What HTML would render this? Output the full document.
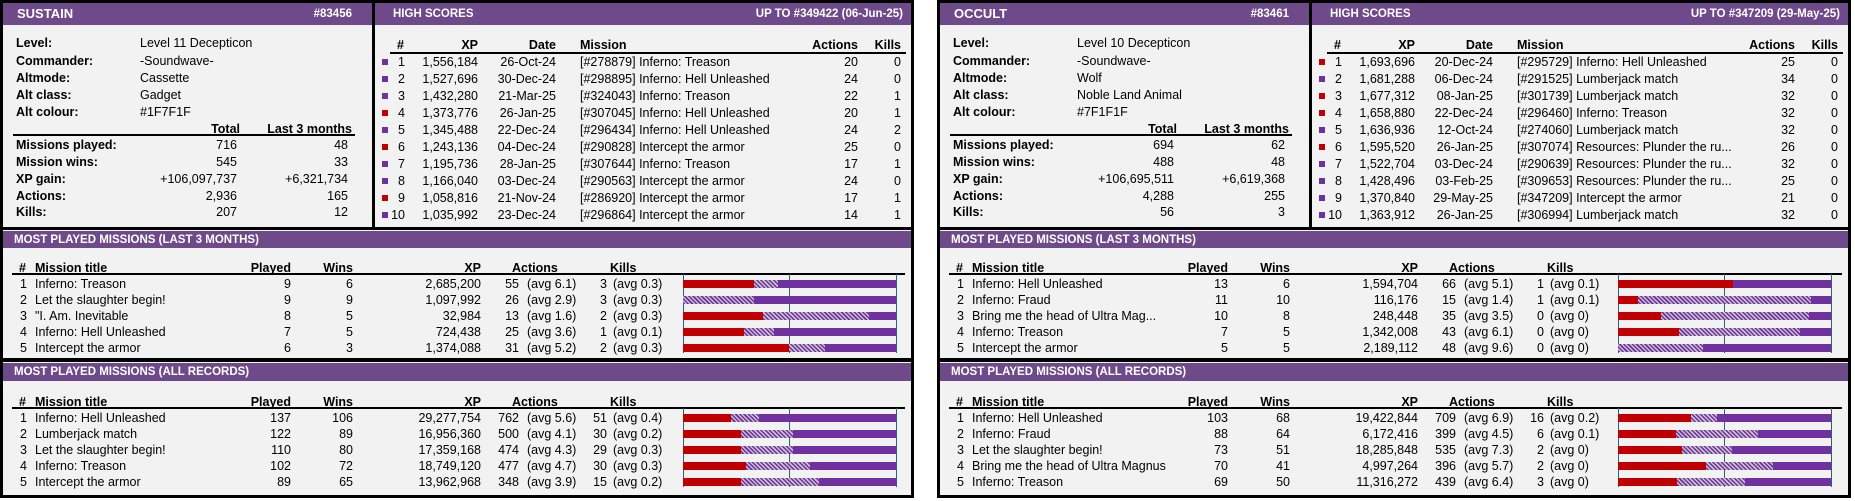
<!DOCTYPE html>
<html><head><meta charset="utf-8"><style>
body{margin:0;width:1855px;height:501px;background:#fff;overflow:hidden;font-family:"Liberation Sans",Arial,sans-serif;color:#000}
.c{position:absolute;top:0;width:914px;height:498px;background:#000}
.p{position:absolute;background:#f2f2f2}
.h{position:absolute;background:#6e4a8a}
.t{position:absolute;white-space:nowrap;line-height:16px;height:16px;font-size:12.5px}
.b{font-weight:bold}
.w{color:#fff;font-weight:bold;font-size:13px}
.hs{color:#fff;font-weight:bold;font-size:11.5px}
.ln{position:absolute;height:1.5px;background:#000}
.sq{position:absolute;width:6px;height:6px}
.tk{position:absolute;width:1px;background:#2a6080}
.bar{position:absolute;height:8px;background:#7030a0}
.bar i{position:absolute;top:0;height:8px;left:0}
.rd{background:#c00000}
.hx{background:repeating-linear-gradient(45deg,#7030a0 0 1.5px,#c8c0cc 1.5px 3px)}
</style></head><body>

<!-- LEFT CARD -->
<div class="c" style="left:0">
<div class="p" style="left:3px;top:3px;width:369px;height:224px"></div>
<div class="p" style="left:375px;top:3px;width:536px;height:224px"></div>
<div class="p" style="left:3px;top:230px;width:908px;height:128px"></div>
<div class="p" style="left:3px;top:362px;width:908px;height:133px"></div>
<div class="h" style="left:3px;top:3px;width:369px;height:22px"></div>
<div class="h" style="left:375px;top:3px;width:536px;height:22px"></div>
<div class="h" style="left:3px;top:231px;width:908px;height:17px"></div>
<div class="h" style="left:3px;top:363px;width:908px;height:18px"></div>
<div class="t w" style="left:17px;top:6px">SUSTAIN</div>
<div class="t hs" style="right:562px;top:6px">#83456</div>
<div class="t hs" style="left:393px;top:6px">HIGH SCORES</div>
<div class="t hs" style="right:11px;top:6px">UP TO #349422 (06-Jun-25)</div>

<div class="t b" style="left:16px;top:35px">Level:</div><div class="t" style="left:140px;top:35px">Level 11 Decepticon</div>
<div class="t b" style="left:16px;top:53px">Commander:</div><div class="t" style="left:140px;top:53px">-Soundwave-</div>
<div class="t b" style="left:16px;top:70px">Altmode:</div><div class="t" style="left:140px;top:70px">Cassette</div>
<div class="t b" style="left:16px;top:87px">Alt class:</div><div class="t" style="left:140px;top:87px">Gadget</div>
<div class="t b" style="left:16px;top:104px">Alt colour:</div><div class="t" style="left:140px;top:104px">#1F7F1F</div>
<div class="t b" style="right:674px;top:121px">Total</div><div class="t b" style="right:562px;top:121px">Last 3 months</div>
<div class="ln" style="left:13px;width:342px;top:134px"></div>
<div class="t b" style="left:16px;top:137px">Missions played:</div><div class="t" style="right:677px;top:137px">716</div><div class="t" style="right:566px;top:137px">48</div>
<div class="t b" style="left:16px;top:154px">Mission wins:</div><div class="t" style="right:677px;top:154px">545</div><div class="t" style="right:566px;top:154px">33</div>
<div class="t b" style="left:16px;top:171px">XP gain:</div><div class="t" style="right:677px;top:171px">+106,097,737</div><div class="t" style="right:566px;top:171px">+6,321,734</div>
<div class="t b" style="left:16px;top:188px">Actions:</div><div class="t" style="right:677px;top:188px">2,936</div><div class="t" style="right:566px;top:188px">165</div>
<div class="t b" style="left:16px;top:204px">Kills:</div><div class="t" style="right:677px;top:204px">207</div><div class="t" style="right:566px;top:204px">12</div>

<div class="t b" style="left:397px;top:37px">#</div><div class="t b" style="right:436px;top:37px">XP</div><div class="t b" style="right:358px;top:37px">Date</div><div class="t b" style="left:580px;top:37px">Mission</div><div class="t b" style="right:56px;top:37px">Actions</div><div class="t b" style="right:13px;top:37px">Kills</div>
<div class="ln" style="left:390px;width:516px;top:52px"></div>
<div class="sq" style="left:382px;top:59px;background:#7030a0"></div><div class="t" style="right:509px;top:54px">1</div><div class="t" style="right:436px;top:54px">1,556,184</div><div class="t" style="right:358px;top:54px">26-Oct-24</div><div class="t" style="left:580px;top:54px">[#278879] Inferno: Treason</div><div class="t" style="right:56px;top:54px">20</div><div class="t" style="right:13px;top:54px">0</div>
<div class="sq" style="left:382px;top:76px;background:#7030a0"></div><div class="t" style="right:509px;top:71px">2</div><div class="t" style="right:436px;top:71px">1,527,696</div><div class="t" style="right:358px;top:71px">30-Dec-24</div><div class="t" style="left:580px;top:71px">[#298895] Inferno: Hell Unleashed</div><div class="t" style="right:56px;top:71px">24</div><div class="t" style="right:13px;top:71px">0</div>
<div class="sq" style="left:382px;top:93px;background:#7030a0"></div><div class="t" style="right:509px;top:88px">3</div><div class="t" style="right:436px;top:88px">1,432,280</div><div class="t" style="right:358px;top:88px">21-Mar-25</div><div class="t" style="left:580px;top:88px">[#324043] Inferno: Treason</div><div class="t" style="right:56px;top:88px">22</div><div class="t" style="right:13px;top:88px">1</div>
<div class="sq" style="left:382px;top:110px;background:#c00000"></div><div class="t" style="right:509px;top:105px">4</div><div class="t" style="right:436px;top:105px">1,373,776</div><div class="t" style="right:358px;top:105px">26-Jan-25</div><div class="t" style="left:580px;top:105px">[#307045] Inferno: Hell Unleashed</div><div class="t" style="right:56px;top:105px">20</div><div class="t" style="right:13px;top:105px">1</div>
<div class="sq" style="left:382px;top:127px;background:#7030a0"></div><div class="t" style="right:509px;top:122px">5</div><div class="t" style="right:436px;top:122px">1,345,488</div><div class="t" style="right:358px;top:122px">22-Dec-24</div><div class="t" style="left:580px;top:122px">[#296434] Inferno: Hell Unleashed</div><div class="t" style="right:56px;top:122px">24</div><div class="t" style="right:13px;top:122px">2</div>
<div class="sq" style="left:382px;top:144px;background:#c00000"></div><div class="t" style="right:509px;top:139px">6</div><div class="t" style="right:436px;top:139px">1,243,136</div><div class="t" style="right:358px;top:139px">04-Dec-24</div><div class="t" style="left:580px;top:139px">[#290828] Intercept the armor</div><div class="t" style="right:56px;top:139px">25</div><div class="t" style="right:13px;top:139px">0</div>
<div class="sq" style="left:382px;top:161px;background:#7030a0"></div><div class="t" style="right:509px;top:156px">7</div><div class="t" style="right:436px;top:156px">1,195,736</div><div class="t" style="right:358px;top:156px">28-Jan-25</div><div class="t" style="left:580px;top:156px">[#307644] Inferno: Treason</div><div class="t" style="right:56px;top:156px">17</div><div class="t" style="right:13px;top:156px">1</div>
<div class="sq" style="left:382px;top:178px;background:#7030a0"></div><div class="t" style="right:509px;top:173px">8</div><div class="t" style="right:436px;top:173px">1,166,040</div><div class="t" style="right:358px;top:173px">03-Dec-24</div><div class="t" style="left:580px;top:173px">[#290563] Intercept the armor</div><div class="t" style="right:56px;top:173px">24</div><div class="t" style="right:13px;top:173px">0</div>
<div class="sq" style="left:382px;top:195px;background:#c00000"></div><div class="t" style="right:509px;top:190px">9</div><div class="t" style="right:436px;top:190px">1,058,816</div><div class="t" style="right:358px;top:190px">21-Nov-24</div><div class="t" style="left:580px;top:190px">[#286920] Intercept the armor</div><div class="t" style="right:56px;top:190px">17</div><div class="t" style="right:13px;top:190px">1</div>
<div class="sq" style="left:382px;top:212px;background:#7030a0"></div><div class="t" style="right:509px;top:207px">10</div><div class="t" style="right:436px;top:207px">1,035,992</div><div class="t" style="right:358px;top:207px">23-Dec-24</div><div class="t" style="left:580px;top:207px">[#296864] Intercept the armor</div><div class="t" style="right:56px;top:207px">14</div><div class="t" style="right:13px;top:207px">1</div>

<div class="t hs" style="left:14px;top:232px">MOST PLAYED MISSIONS (LAST 3 MONTHS)</div>
<div class="t b" style="left:19px;top:260px">#</div><div class="t b" style="left:35px;top:260px">Mission title</div><div class="t b" style="right:623px;top:260px">Played</div><div class="t b" style="right:561px;top:260px">Wins</div><div class="t b" style="right:433px;top:260px">XP</div><div class="t b" style="left:512px;top:260px">Actions</div><div class="t b" style="left:610px;top:260px">Kills</div>
<div class="ln" style="left:12px;width:893px;top:273px"></div>
<div class="tk" style="left:683px;top:274px;height:79px"></div><div class="tk" style="left:789px;top:274px;height:79px"></div><div class="tk" style="left:896px;top:274px;height:79px"></div>
<div class="t" style="right:887px;top:276px">1</div><div class="t" style="left:35px;top:276px">Inferno: Treason</div><div class="t" style="right:623px;top:276px">9</div><div class="t" style="right:561px;top:276px">6</div><div class="t" style="right:433px;top:276px">2,685,200</div><div class="t" style="right:395px;top:276px">55</div><div class="t" style="left:527px;top:276px">(avg 6.1)</div><div class="t" style="right:307px;top:276px">3</div><div class="t" style="left:613px;top:276px">(avg 0.3)</div>
<div class="bar" style="left:683px;top:280px;width:213px"><i class="hx" style="width:95px"></i><i class="rd" style="width:71px"></i></div>
<div class="t" style="right:887px;top:292px">2</div><div class="t" style="left:35px;top:292px">Let the slaughter begin!</div><div class="t" style="right:623px;top:292px">9</div><div class="t" style="right:561px;top:292px">9</div><div class="t" style="right:433px;top:292px">1,097,992</div><div class="t" style="right:395px;top:292px">26</div><div class="t" style="left:527px;top:292px">(avg 2.9)</div><div class="t" style="right:307px;top:292px">3</div><div class="t" style="left:613px;top:292px">(avg 0.3)</div>
<div class="bar" style="left:683px;top:296px;width:213px"><i class="hx" style="width:71px"></i></div>
<div class="t" style="right:887px;top:308px">3</div><div class="t" style="left:35px;top:308px">"I. Am. Inevitable</div><div class="t" style="right:623px;top:308px">8</div><div class="t" style="right:561px;top:308px">5</div><div class="t" style="right:433px;top:308px">32,984</div><div class="t" style="right:395px;top:308px">13</div><div class="t" style="left:527px;top:308px">(avg 1.6)</div><div class="t" style="right:307px;top:308px">2</div><div class="t" style="left:613px;top:308px">(avg 0.3)</div>
<div class="bar" style="left:683px;top:312px;width:213px"><i class="hx" style="width:186px"></i><i class="rd" style="width:80px"></i></div>
<div class="t" style="right:887px;top:324px">4</div><div class="t" style="left:35px;top:324px">Inferno: Hell Unleashed</div><div class="t" style="right:623px;top:324px">7</div><div class="t" style="right:561px;top:324px">5</div><div class="t" style="right:433px;top:324px">724,438</div><div class="t" style="right:395px;top:324px">25</div><div class="t" style="left:527px;top:324px">(avg 3.6)</div><div class="t" style="right:307px;top:324px">1</div><div class="t" style="left:613px;top:324px">(avg 0.1)</div>
<div class="bar" style="left:683px;top:328px;width:213px"><i class="hx" style="width:91px"></i><i class="rd" style="width:61px"></i></div>
<div class="t" style="right:887px;top:340px">5</div><div class="t" style="left:35px;top:340px">Intercept the armor</div><div class="t" style="right:623px;top:340px">6</div><div class="t" style="right:561px;top:340px">3</div><div class="t" style="right:433px;top:340px">1,374,088</div><div class="t" style="right:395px;top:340px">31</div><div class="t" style="left:527px;top:340px">(avg 5.2)</div><div class="t" style="right:307px;top:340px">2</div><div class="t" style="left:613px;top:340px">(avg 0.3)</div>
<div class="bar" style="left:683px;top:344px;width:213px"><i class="hx" style="width:142px"></i><i class="rd" style="width:106px"></i></div>

<div class="t hs" style="left:14px;top:364px">MOST PLAYED MISSIONS (ALL RECORDS)</div>
<div class="t b" style="left:19px;top:394px">#</div><div class="t b" style="left:35px;top:394px">Mission title</div><div class="t b" style="right:623px;top:394px">Played</div><div class="t b" style="right:561px;top:394px">Wins</div><div class="t b" style="right:433px;top:394px">XP</div><div class="t b" style="left:512px;top:394px">Actions</div><div class="t b" style="left:610px;top:394px">Kills</div>
<div class="ln" style="left:12px;width:893px;top:407px"></div>
<div class="tk" style="left:683px;top:408px;height:79px"></div><div class="tk" style="left:789px;top:408px;height:79px"></div><div class="tk" style="left:896px;top:408px;height:79px"></div>
<div class="t" style="right:887px;top:410px">1</div><div class="t" style="left:35px;top:410px">Inferno: Hell Unleashed</div><div class="t" style="right:623px;top:410px">137</div><div class="t" style="right:561px;top:410px">106</div><div class="t" style="right:433px;top:410px">29,277,754</div><div class="t" style="right:395px;top:410px">762</div><div class="t" style="left:527px;top:410px">(avg 5.6)</div><div class="t" style="right:307px;top:410px">51</div><div class="t" style="left:613px;top:410px">(avg 0.4)</div>
<div class="bar" style="left:683px;top:414px;width:213px"><i class="hx" style="width:76px"></i><i class="rd" style="width:48px"></i></div>
<div class="t" style="right:887px;top:426px">2</div><div class="t" style="left:35px;top:426px">Lumberjack match</div><div class="t" style="right:623px;top:426px">122</div><div class="t" style="right:561px;top:426px">89</div><div class="t" style="right:433px;top:426px">16,956,360</div><div class="t" style="right:395px;top:426px">500</div><div class="t" style="left:527px;top:426px">(avg 4.1)</div><div class="t" style="right:307px;top:426px">30</div><div class="t" style="left:613px;top:426px">(avg 0.2)</div>
<div class="bar" style="left:683px;top:430px;width:213px"><i class="hx" style="width:110px"></i><i class="rd" style="width:58px"></i></div>
<div class="t" style="right:887px;top:442px">3</div><div class="t" style="left:35px;top:442px">Let the slaughter begin!</div><div class="t" style="right:623px;top:442px">110</div><div class="t" style="right:561px;top:442px">80</div><div class="t" style="right:433px;top:442px">17,359,168</div><div class="t" style="right:395px;top:442px">474</div><div class="t" style="left:527px;top:442px">(avg 4.3)</div><div class="t" style="right:307px;top:442px">29</div><div class="t" style="left:613px;top:442px">(avg 0.3)</div>
<div class="bar" style="left:683px;top:446px;width:213px"><i class="hx" style="width:110px"></i><i class="rd" style="width:58px"></i></div>
<div class="t" style="right:887px;top:458px">4</div><div class="t" style="left:35px;top:458px">Inferno: Treason</div><div class="t" style="right:623px;top:458px">102</div><div class="t" style="right:561px;top:458px">72</div><div class="t" style="right:433px;top:458px">18,749,120</div><div class="t" style="right:395px;top:458px">477</div><div class="t" style="left:527px;top:458px">(avg 4.7)</div><div class="t" style="right:307px;top:458px">30</div><div class="t" style="left:613px;top:458px">(avg 0.3)</div>
<div class="bar" style="left:683px;top:462px;width:213px"><i class="hx" style="width:127px"></i><i class="rd" style="width:63px"></i></div>
<div class="t" style="right:887px;top:474px">5</div><div class="t" style="left:35px;top:474px">Intercept the armor</div><div class="t" style="right:623px;top:474px">89</div><div class="t" style="right:561px;top:474px">65</div><div class="t" style="right:433px;top:474px">13,962,968</div><div class="t" style="right:395px;top:474px">348</div><div class="t" style="left:527px;top:474px">(avg 3.9)</div><div class="t" style="right:307px;top:474px">15</div><div class="t" style="left:613px;top:474px">(avg 0.2)</div>
<div class="bar" style="left:683px;top:478px;width:213px"><i class="hx" style="width:136px"></i><i class="rd" style="width:58px"></i></div>
</div>

<!-- RIGHT CARD -->
<div class="c" style="left:937px">
<div class="p" style="left:3px;top:3px;width:369px;height:224px"></div>
<div class="p" style="left:375px;top:3px;width:536px;height:224px"></div>
<div class="p" style="left:3px;top:230px;width:908px;height:128px"></div>
<div class="p" style="left:3px;top:362px;width:908px;height:133px"></div>
<div class="h" style="left:3px;top:3px;width:369px;height:22px"></div>
<div class="h" style="left:375px;top:3px;width:536px;height:22px"></div>
<div class="h" style="left:3px;top:231px;width:908px;height:17px"></div>
<div class="h" style="left:3px;top:363px;width:908px;height:18px"></div>
<div class="t w" style="left:17px;top:6px">OCCULT</div>
<div class="t hs" style="right:562px;top:6px">#83461</div>
<div class="t hs" style="left:393px;top:6px">HIGH SCORES</div>
<div class="t hs" style="right:11px;top:6px">UP TO #347209 (29-May-25)</div>

<div class="t b" style="left:16px;top:35px">Level:</div><div class="t" style="left:140px;top:35px">Level 10 Decepticon</div>
<div class="t b" style="left:16px;top:53px">Commander:</div><div class="t" style="left:140px;top:53px">-Soundwave-</div>
<div class="t b" style="left:16px;top:70px">Altmode:</div><div class="t" style="left:140px;top:70px">Wolf</div>
<div class="t b" style="left:16px;top:87px">Alt class:</div><div class="t" style="left:140px;top:87px">Noble Land Animal</div>
<div class="t b" style="left:16px;top:104px">Alt colour:</div><div class="t" style="left:140px;top:104px">#7F1F1F</div>
<div class="t b" style="right:674px;top:121px">Total</div><div class="t b" style="right:562px;top:121px">Last 3 months</div>
<div class="ln" style="left:13px;width:342px;top:134px"></div>
<div class="t b" style="left:16px;top:137px">Missions played:</div><div class="t" style="right:677px;top:137px">694</div><div class="t" style="right:566px;top:137px">62</div>
<div class="t b" style="left:16px;top:154px">Mission wins:</div><div class="t" style="right:677px;top:154px">488</div><div class="t" style="right:566px;top:154px">48</div>
<div class="t b" style="left:16px;top:171px">XP gain:</div><div class="t" style="right:677px;top:171px">+106,695,511</div><div class="t" style="right:566px;top:171px">+6,619,368</div>
<div class="t b" style="left:16px;top:188px">Actions:</div><div class="t" style="right:677px;top:188px">4,288</div><div class="t" style="right:566px;top:188px">255</div>
<div class="t b" style="left:16px;top:204px">Kills:</div><div class="t" style="right:677px;top:204px">56</div><div class="t" style="right:566px;top:204px">3</div>

<div class="t b" style="left:397px;top:37px">#</div><div class="t b" style="right:436px;top:37px">XP</div><div class="t b" style="right:358px;top:37px">Date</div><div class="t b" style="left:580px;top:37px">Mission</div><div class="t b" style="right:56px;top:37px">Actions</div><div class="t b" style="right:13px;top:37px">Kills</div>
<div class="ln" style="left:390px;width:516px;top:52px"></div>
<div class="sq" style="left:382px;top:59px;background:#c00000"></div><div class="t" style="right:509px;top:54px">1</div><div class="t" style="right:436px;top:54px">1,693,696</div><div class="t" style="right:358px;top:54px">20-Dec-24</div><div class="t" style="left:580px;top:54px">[#295729] Inferno: Hell Unleashed</div><div class="t" style="right:56px;top:54px">25</div><div class="t" style="right:13px;top:54px">0</div>
<div class="sq" style="left:382px;top:76px;background:#7030a0"></div><div class="t" style="right:509px;top:71px">2</div><div class="t" style="right:436px;top:71px">1,681,288</div><div class="t" style="right:358px;top:71px">06-Dec-24</div><div class="t" style="left:580px;top:71px">[#291525] Lumberjack match</div><div class="t" style="right:56px;top:71px">34</div><div class="t" style="right:13px;top:71px">0</div>
<div class="sq" style="left:382px;top:93px;background:#c00000"></div><div class="t" style="right:509px;top:88px">3</div><div class="t" style="right:436px;top:88px">1,677,312</div><div class="t" style="right:358px;top:88px">08-Jan-25</div><div class="t" style="left:580px;top:88px">[#301739] Lumberjack match</div><div class="t" style="right:56px;top:88px">32</div><div class="t" style="right:13px;top:88px">0</div>
<div class="sq" style="left:382px;top:110px;background:#c00000"></div><div class="t" style="right:509px;top:105px">4</div><div class="t" style="right:436px;top:105px">1,658,880</div><div class="t" style="right:358px;top:105px">22-Dec-24</div><div class="t" style="left:580px;top:105px">[#296460] Inferno: Treason</div><div class="t" style="right:56px;top:105px">32</div><div class="t" style="right:13px;top:105px">0</div>
<div class="sq" style="left:382px;top:127px;background:#7030a0"></div><div class="t" style="right:509px;top:122px">5</div><div class="t" style="right:436px;top:122px">1,636,936</div><div class="t" style="right:358px;top:122px">12-Oct-24</div><div class="t" style="left:580px;top:122px">[#274060] Lumberjack match</div><div class="t" style="right:56px;top:122px">32</div><div class="t" style="right:13px;top:122px">0</div>
<div class="sq" style="left:382px;top:144px;background:#c00000"></div><div class="t" style="right:509px;top:139px">6</div><div class="t" style="right:436px;top:139px">1,595,520</div><div class="t" style="right:358px;top:139px">26-Jan-25</div><div class="t" style="left:580px;top:139px">[#307074] Resources: Plunder the ru...</div><div class="t" style="right:56px;top:139px">26</div><div class="t" style="right:13px;top:139px">0</div>
<div class="sq" style="left:382px;top:161px;background:#7030a0"></div><div class="t" style="right:509px;top:156px">7</div><div class="t" style="right:436px;top:156px">1,522,704</div><div class="t" style="right:358px;top:156px">03-Dec-24</div><div class="t" style="left:580px;top:156px">[#290639] Resources: Plunder the ru...</div><div class="t" style="right:56px;top:156px">32</div><div class="t" style="right:13px;top:156px">0</div>
<div class="sq" style="left:382px;top:178px;background:#7030a0"></div><div class="t" style="right:509px;top:173px">8</div><div class="t" style="right:436px;top:173px">1,428,496</div><div class="t" style="right:358px;top:173px">03-Feb-25</div><div class="t" style="left:580px;top:173px">[#309653] Resources: Plunder the ru...</div><div class="t" style="right:56px;top:173px">25</div><div class="t" style="right:13px;top:173px">0</div>
<div class="sq" style="left:382px;top:195px;background:#7030a0"></div><div class="t" style="right:509px;top:190px">9</div><div class="t" style="right:436px;top:190px">1,370,840</div><div class="t" style="right:358px;top:190px">29-May-25</div><div class="t" style="left:580px;top:190px">[#347209] Intercept the armor</div><div class="t" style="right:56px;top:190px">21</div><div class="t" style="right:13px;top:190px">0</div>
<div class="sq" style="left:382px;top:212px;background:#7030a0"></div><div class="t" style="right:509px;top:207px">10</div><div class="t" style="right:436px;top:207px">1,363,912</div><div class="t" style="right:358px;top:207px">26-Jan-25</div><div class="t" style="left:580px;top:207px">[#306994] Lumberjack match</div><div class="t" style="right:56px;top:207px">32</div><div class="t" style="right:13px;top:207px">0</div>

<div class="t hs" style="left:14px;top:232px">MOST PLAYED MISSIONS (LAST 3 MONTHS)</div>
<div class="t b" style="left:19px;top:260px">#</div><div class="t b" style="left:35px;top:260px">Mission title</div><div class="t b" style="right:623px;top:260px">Played</div><div class="t b" style="right:561px;top:260px">Wins</div><div class="t b" style="right:433px;top:260px">XP</div><div class="t b" style="left:512px;top:260px">Actions</div><div class="t b" style="left:610px;top:260px">Kills</div>
<div class="ln" style="left:12px;width:893px;top:273px"></div>
<div class="tk" style="left:681px;top:274px;height:79px"></div><div class="tk" style="left:787px;top:274px;height:79px"></div><div class="tk" style="left:894px;top:274px;height:79px"></div>
<div class="t" style="right:887px;top:276px">1</div><div class="t" style="left:35px;top:276px">Inferno: Hell Unleashed</div><div class="t" style="right:623px;top:276px">13</div><div class="t" style="right:561px;top:276px">6</div><div class="t" style="right:433px;top:276px">1,594,704</div><div class="t" style="right:395px;top:276px">66</div><div class="t" style="left:527px;top:276px">(avg 5.1)</div><div class="t" style="right:307px;top:276px">1</div><div class="t" style="left:613px;top:276px">(avg 0.1)</div>
<div class="bar" style="left:681px;top:280px;width:213px"><i class="rd" style="width:115px"></i></div>
<div class="t" style="right:887px;top:292px">2</div><div class="t" style="left:35px;top:292px">Inferno: Fraud</div><div class="t" style="right:623px;top:292px">11</div><div class="t" style="right:561px;top:292px">10</div><div class="t" style="right:433px;top:292px">116,176</div><div class="t" style="right:395px;top:292px">15</div><div class="t" style="left:527px;top:292px">(avg 1.4)</div><div class="t" style="right:307px;top:292px">1</div><div class="t" style="left:613px;top:292px">(avg 0.1)</div>
<div class="bar" style="left:681px;top:296px;width:213px"><i class="hx" style="width:193px"></i><i class="rd" style="width:20px"></i></div>
<div class="t" style="right:887px;top:308px">3</div><div class="t" style="left:35px;top:308px">Bring me the head of Ultra Mag...</div><div class="t" style="right:623px;top:308px">10</div><div class="t" style="right:561px;top:308px">8</div><div class="t" style="right:433px;top:308px">248,448</div><div class="t" style="right:395px;top:308px">35</div><div class="t" style="left:527px;top:308px">(avg 3.5)</div><div class="t" style="right:307px;top:308px">0</div><div class="t" style="left:613px;top:308px">(avg 0)</div>
<div class="bar" style="left:681px;top:312px;width:213px"><i class="hx" style="width:191px"></i><i class="rd" style="width:43px"></i></div>
<div class="t" style="right:887px;top:324px">4</div><div class="t" style="left:35px;top:324px">Inferno: Treason</div><div class="t" style="right:623px;top:324px">7</div><div class="t" style="right:561px;top:324px">5</div><div class="t" style="right:433px;top:324px">1,342,008</div><div class="t" style="right:395px;top:324px">43</div><div class="t" style="left:527px;top:324px">(avg 6.1)</div><div class="t" style="right:307px;top:324px">0</div><div class="t" style="left:613px;top:324px">(avg 0)</div>
<div class="bar" style="left:681px;top:328px;width:213px"><i class="hx" style="width:182px"></i><i class="rd" style="width:61px"></i></div>
<div class="t" style="right:887px;top:340px">5</div><div class="t" style="left:35px;top:340px">Intercept the armor</div><div class="t" style="right:623px;top:340px">5</div><div class="t" style="right:561px;top:340px">5</div><div class="t" style="right:433px;top:340px">2,189,112</div><div class="t" style="right:395px;top:340px">48</div><div class="t" style="left:527px;top:340px">(avg 9.6)</div><div class="t" style="right:307px;top:340px">0</div><div class="t" style="left:613px;top:340px">(avg 0)</div>
<div class="bar" style="left:681px;top:344px;width:213px"><i class="hx" style="width:85px"></i></div>

<div class="t hs" style="left:14px;top:364px">MOST PLAYED MISSIONS (ALL RECORDS)</div>
<div class="t b" style="left:19px;top:394px">#</div><div class="t b" style="left:35px;top:394px">Mission title</div><div class="t b" style="right:623px;top:394px">Played</div><div class="t b" style="right:561px;top:394px">Wins</div><div class="t b" style="right:433px;top:394px">XP</div><div class="t b" style="left:512px;top:394px">Actions</div><div class="t b" style="left:610px;top:394px">Kills</div>
<div class="ln" style="left:12px;width:893px;top:407px"></div>
<div class="tk" style="left:681px;top:408px;height:79px"></div><div class="tk" style="left:787px;top:408px;height:79px"></div><div class="tk" style="left:894px;top:408px;height:79px"></div>
<div class="t" style="right:887px;top:410px">1</div><div class="t" style="left:35px;top:410px">Inferno: Hell Unleashed</div><div class="t" style="right:623px;top:410px">103</div><div class="t" style="right:561px;top:410px">68</div><div class="t" style="right:433px;top:410px">19,422,844</div><div class="t" style="right:395px;top:410px">709</div><div class="t" style="left:527px;top:410px">(avg 6.9)</div><div class="t" style="right:307px;top:410px">16</div><div class="t" style="left:613px;top:410px">(avg 0.2)</div>
<div class="bar" style="left:681px;top:414px;width:213px"><i class="hx" style="width:99px"></i><i class="rd" style="width:73px"></i></div>
<div class="t" style="right:887px;top:426px">2</div><div class="t" style="left:35px;top:426px">Inferno: Fraud</div><div class="t" style="right:623px;top:426px">88</div><div class="t" style="right:561px;top:426px">64</div><div class="t" style="right:433px;top:426px">6,172,416</div><div class="t" style="right:395px;top:426px">399</div><div class="t" style="left:527px;top:426px">(avg 4.5)</div><div class="t" style="right:307px;top:426px">6</div><div class="t" style="left:613px;top:426px">(avg 0.1)</div>
<div class="bar" style="left:681px;top:430px;width:213px"><i class="hx" style="width:140px"></i><i class="rd" style="width:58px"></i></div>
<div class="t" style="right:887px;top:442px">3</div><div class="t" style="left:35px;top:442px">Let the slaughter begin!</div><div class="t" style="right:623px;top:442px">73</div><div class="t" style="right:561px;top:442px">51</div><div class="t" style="right:433px;top:442px">18,285,848</div><div class="t" style="right:395px;top:442px">535</div><div class="t" style="left:527px;top:442px">(avg 7.3)</div><div class="t" style="right:307px;top:442px">2</div><div class="t" style="left:613px;top:442px">(avg 0)</div>
<div class="bar" style="left:681px;top:446px;width:213px"><i class="hx" style="width:114px"></i><i class="rd" style="width:64px"></i></div>
<div class="t" style="right:887px;top:458px">4</div><div class="t" style="left:35px;top:458px">Bring me the head of Ultra Magnus</div><div class="t" style="right:623px;top:458px">70</div><div class="t" style="right:561px;top:458px">41</div><div class="t" style="right:433px;top:458px">4,997,264</div><div class="t" style="right:395px;top:458px">396</div><div class="t" style="left:527px;top:458px">(avg 5.7)</div><div class="t" style="right:307px;top:458px">2</div><div class="t" style="left:613px;top:458px">(avg 0)</div>
<div class="bar" style="left:681px;top:462px;width:213px"><i class="hx" style="width:155px"></i><i class="rd" style="width:88px"></i></div>
<div class="t" style="right:887px;top:474px">5</div><div class="t" style="left:35px;top:474px">Inferno: Treason</div><div class="t" style="right:623px;top:474px">69</div><div class="t" style="right:561px;top:474px">50</div><div class="t" style="right:433px;top:474px">11,316,272</div><div class="t" style="right:395px;top:474px">439</div><div class="t" style="left:527px;top:474px">(avg 6.4)</div><div class="t" style="right:307px;top:474px">3</div><div class="t" style="left:613px;top:474px">(avg 0)</div>
<div class="bar" style="left:681px;top:478px;width:213px"><i class="hx" style="width:127px"></i><i class="rd" style="width:59px"></i></div>
</div>
</body></html>
